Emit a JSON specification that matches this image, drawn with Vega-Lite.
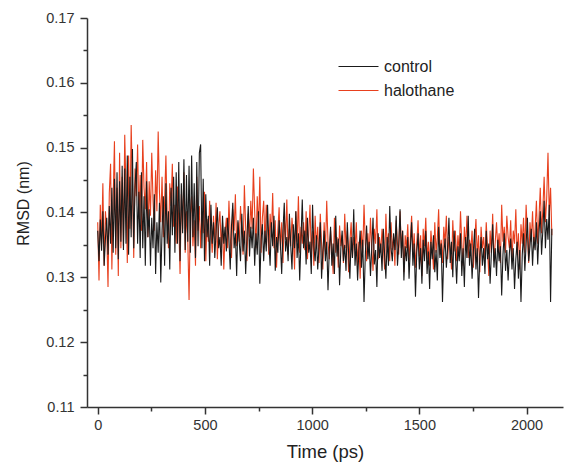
{
 "$schema": "https://vega.github.io/schema/vega-lite/v6.json",
 "width": 476, "height": 389,
 "autosize": {"type": "none"},
 "padding": {"left": 87, "top": 18, "right": 2, "bottom": 57},
 "background": "white",
 "config": {"view": {"stroke": null}, "font": "Liberation Sans"},
 "data": {"values": [
{"t":0,"control":0.1372,"halothane":0.1385},{"t":6,"control":0.1325,"halothane":0.1295},{"t":12,"control":0.1389,"halothane":0.1412},{"t":18,"control":0.1341,"halothane":0.1352},{"t":24,"control":0.1402,"halothane":0.1445},{"t":30,"control":0.1318,"halothane":0.1318},{"t":36,"control":0.1360,"halothane":0.1402},{"t":42,"control":0.1392,"halothane":0.1372},{"t":48,"control":0.1335,"halothane":0.1285},{"t":54,"control":0.1410,"halothane":0.1430},
{"t":60,"control":0.1352,"halothane":0.1475},{"t":66,"control":0.1438,"halothane":0.1312},{"t":72,"control":0.1338,"halothane":0.1420},{"t":78,"control":0.1452,"halothane":0.1510},{"t":84,"control":0.1345,"halothane":0.1335},{"t":90,"control":0.1462,"halothane":0.1438},{"t":96,"control":0.1328,"halothane":0.1302},{"t":102,"control":0.1448,"halothane":0.1492},{"t":108,"control":0.1355,"halothane":0.1345},{"t":114,"control":0.1472,"halothane":0.1455},
{"t":120,"control":0.1342,"halothane":0.1348},{"t":126,"control":0.1468,"halothane":0.1520},{"t":132,"control":0.1352,"halothane":0.1432},{"t":138,"control":0.1488,"halothane":0.1322},{"t":144,"control":0.1335,"halothane":0.1488},{"t":150,"control":0.1455,"halothane":0.1375},{"t":156,"control":0.1362,"halothane":0.1535},{"t":162,"control":0.1498,"halothane":0.1445},{"t":168,"control":0.1345,"halothane":0.1330},{"t":174,"control":0.1440,"halothane":0.1468},
{"t":180,"control":0.1478,"halothane":0.1425},{"t":186,"control":0.1352,"halothane":0.1505},{"t":192,"control":0.1432,"halothane":0.1390},{"t":198,"control":0.1330,"halothane":0.1458},{"t":204,"control":0.1462,"halothane":0.1372},{"t":210,"control":0.1345,"halothane":0.1512},{"t":216,"control":0.1425,"halothane":0.1438},{"t":222,"control":0.1318,"halothane":0.1405},{"t":228,"control":0.1448,"halothane":0.1478},{"t":234,"control":0.1362,"halothane":0.1362},
{"t":240,"control":0.1405,"halothane":0.1448},{"t":246,"control":0.1318,"halothane":0.1395},{"t":252,"control":0.1392,"halothane":0.1492},{"t":258,"control":0.1345,"halothane":0.1418},{"t":264,"control":0.1428,"halothane":0.1372},{"t":270,"control":0.1305,"halothane":0.1465},{"t":276,"control":0.1385,"halothane":0.1402},{"t":282,"control":0.1338,"halothane":0.1525},{"t":288,"control":0.1415,"halothane":0.1430},{"t":294,"control":0.1292,"halothane":0.1385},
{"t":300,"control":0.1372,"halothane":0.1455},{"t":306,"control":0.1425,"halothane":0.1362},{"t":312,"control":0.1318,"halothane":0.1418},{"t":318,"control":0.1445,"halothane":0.1488},{"t":324,"control":0.1352,"halothane":0.1392},{"t":330,"control":0.1402,"halothane":0.1345},{"t":336,"control":0.1312,"halothane":0.1445},{"t":342,"control":0.1438,"halothane":0.1410},{"t":348,"control":0.1365,"halothane":0.1475},{"t":354,"control":0.1455,"halothane":0.1378},
{"t":360,"control":0.1338,"halothane":0.1412},{"t":366,"control":0.1462,"halothane":0.1352},{"t":372,"control":0.1352,"halothane":0.1440},{"t":378,"control":0.1478,"halothane":0.1385},{"t":384,"control":0.1325,"halothane":0.1305},{"t":390,"control":0.1445,"halothane":0.1428},{"t":396,"control":0.1368,"halothane":0.1375},{"t":402,"control":0.1482,"halothane":0.1462},{"t":408,"control":0.1342,"halothane":0.1338},{"t":414,"control":0.1458,"halothane":0.1402},
{"t":420,"control":0.1355,"halothane":0.1358},{"t":426,"control":0.1472,"halothane":0.1265},{"t":432,"control":0.1338,"halothane":0.1395},{"t":438,"control":0.1488,"halothane":0.1425},{"t":444,"control":0.1362,"halothane":0.1348},{"t":450,"control":0.1445,"halothane":0.1388},{"t":456,"control":0.1330,"halothane":0.1318},{"t":462,"control":0.1478,"halothane":0.1455},{"t":468,"control":0.1348,"halothane":0.1372},{"t":474,"control":0.1492,"halothane":0.1410},
{"t":480,"control":0.1505,"halothane":0.1345},{"t":486,"control":0.1345,"halothane":0.1402},{"t":492,"control":0.1452,"halothane":0.1368},{"t":498,"control":0.1325,"halothane":0.1432},{"t":504,"control":0.1428,"halothane":0.1325},{"t":510,"control":0.1362,"halothane":0.1390},{"t":516,"control":0.1395,"halothane":0.1355},{"t":522,"control":0.1318,"halothane":0.1418},{"t":528,"control":0.1412,"halothane":0.1372},{"t":534,"control":0.1352,"halothane":0.1338},
{"t":540,"control":0.1385,"halothane":0.1395},{"t":546,"control":0.1330,"halothane":0.1352},{"t":552,"control":0.1372,"halothane":0.1415},{"t":558,"control":0.1408,"halothane":0.1328},{"t":564,"control":0.1345,"halothane":0.1378},{"t":570,"control":0.1362,"halothane":0.1402},{"t":576,"control":0.1318,"halothane":0.1345},{"t":582,"control":0.1395,"halothane":0.1385},{"t":588,"control":0.1352,"halothane":0.1312},{"t":594,"control":0.1378,"halothane":0.1368},
{"t":600,"control":0.1340,"halothane":0.1392},{"t":606,"control":0.1392,"halothane":0.1345},{"t":612,"control":0.1358,"halothane":0.1418},{"t":618,"control":0.1312,"halothane":0.1362},{"t":624,"control":0.1380,"halothane":0.1330},{"t":630,"control":0.1415,"halothane":0.1405},{"t":636,"control":0.1345,"halothane":0.1372},{"t":642,"control":0.1368,"halothane":0.1428},{"t":648,"control":0.1302,"halothane":0.1348},{"t":654,"control":0.1388,"halothane":0.1385},
{"t":660,"control":0.1355,"halothane":0.1355},{"t":666,"control":0.1325,"halothane":0.1410},{"t":672,"control":0.1398,"halothane":0.1372},{"t":678,"control":0.1340,"halothane":0.1335},{"t":684,"control":0.1372,"halothane":0.1442},{"t":690,"control":0.1305,"halothane":0.1378},{"t":696,"control":0.1360,"halothane":0.1325},{"t":702,"control":0.1410,"halothane":0.1398},{"t":708,"control":0.1332,"halothane":0.1362},{"t":714,"control":0.1378,"halothane":0.1418},
{"t":720,"control":0.1345,"halothane":0.1375},{"t":726,"control":0.1392,"halothane":0.1468},{"t":732,"control":0.1318,"halothane":0.1402},{"t":738,"control":0.1368,"halothane":0.1345},{"t":744,"control":0.1335,"halothane":0.1425},{"t":750,"control":0.1402,"halothane":0.1372},{"t":756,"control":0.1290,"halothane":0.1455},{"t":762,"control":0.1358,"halothane":0.1338},{"t":768,"control":0.1382,"halothane":0.1392},{"t":774,"control":0.1325,"halothane":0.1418},
{"t":780,"control":0.1372,"halothane":0.1352},{"t":786,"control":0.1340,"halothane":0.1412},{"t":792,"control":0.1412,"halothane":0.1378},{"t":798,"control":0.1355,"halothane":0.1335},{"t":804,"control":0.1318,"halothane":0.1398},{"t":810,"control":0.1385,"halothane":0.1362},{"t":816,"control":0.1348,"halothane":0.1430},{"t":822,"control":0.1395,"halothane":0.1345},{"t":828,"control":0.1310,"halothane":0.1388},{"t":834,"control":0.1362,"halothane":0.1315},
{"t":840,"control":0.1338,"halothane":0.1372},{"t":846,"control":0.1388,"halothane":0.1408},{"t":852,"control":0.1352,"halothane":0.1342},{"t":858,"control":0.1305,"halothane":0.1385},{"t":864,"control":0.1372,"halothane":0.1322},{"t":870,"control":0.1415,"halothane":0.1395},{"t":876,"control":0.1340,"halothane":0.1358},{"t":882,"control":0.1362,"halothane":0.1420},{"t":888,"control":0.1325,"halothane":0.1335},{"t":894,"control":0.1398,"halothane":0.1375},
{"t":900,"control":0.1350,"halothane":0.1348},{"t":906,"control":0.1312,"halothane":0.1392},{"t":912,"control":0.1382,"halothane":0.1365},{"t":918,"control":0.1345,"halothane":0.1312},{"t":924,"control":0.1402,"halothane":0.1402},{"t":930,"control":0.1330,"halothane":0.1355},{"t":936,"control":0.1368,"halothane":0.1425},{"t":942,"control":0.1295,"halothane":0.1338},{"t":948,"control":0.1358,"halothane":0.1378},{"t":954,"control":0.1420,"halothane":0.1352},
{"t":960,"control":0.1345,"halothane":0.1385},{"t":966,"control":0.1372,"halothane":0.1342},{"t":972,"control":0.1320,"halothane":0.1402},{"t":978,"control":0.1392,"halothane":0.1328},{"t":984,"control":0.1338,"halothane":0.1365},{"t":990,"control":0.1355,"halothane":0.1412},{"t":996,"control":0.1305,"halothane":0.1335},{"t":1002,"control":0.1412,"halothane":0.1372},{"t":1008,"control":0.1348,"halothane":0.1318},{"t":1014,"control":0.1325,"halothane":0.1395},
{"t":1020,"control":0.1365,"halothane":0.1345},{"t":1026,"control":0.1312,"halothane":0.1378},{"t":1032,"control":0.1348,"halothane":0.1322},{"t":1038,"control":0.1385,"halothane":0.1398},{"t":1044,"control":0.1298,"halothane":0.1352},{"t":1050,"control":0.1340,"halothane":0.1312},{"t":1056,"control":0.1372,"halothane":0.1385},{"t":1062,"control":0.1325,"halothane":0.1340},{"t":1068,"control":0.1355,"halothane":0.1418},{"t":1074,"control":0.1280,"halothane":0.1355},
{"t":1080,"control":0.1342,"halothane":0.1328},{"t":1086,"control":0.1378,"halothane":0.1372},{"t":1092,"control":0.1318,"halothane":0.1345},{"t":1098,"control":0.1352,"halothane":0.1305},{"t":1104,"control":0.1305,"halothane":0.1392},{"t":1110,"control":0.1395,"halothane":0.1338},{"t":1116,"control":0.1332,"halothane":0.1362},{"t":1122,"control":0.1360,"halothane":0.1315},{"t":1128,"control":0.1288,"halothane":0.1380},{"t":1134,"control":0.1345,"halothane":0.1348},
{"t":1140,"control":0.1372,"halothane":0.1365},{"t":1146,"control":0.1325,"halothane":0.1322},{"t":1152,"control":0.1350,"halothane":0.1398},{"t":1158,"control":0.1310,"halothane":0.1345},{"t":1164,"control":0.1385,"halothane":0.1372},{"t":1170,"control":0.1338,"halothane":0.1308},{"t":1176,"control":0.1298,"halothane":0.1355},{"t":1182,"control":0.1362,"halothane":0.1385},{"t":1188,"control":0.1330,"halothane":0.1330},{"t":1194,"control":0.1405,"halothane":0.1362},
{"t":1200,"control":0.1318,"halothane":0.1342},{"t":1206,"control":0.1352,"halothane":0.1385},{"t":1212,"control":0.1295,"halothane":0.1318},{"t":1218,"control":0.1340,"halothane":0.1355},{"t":1224,"control":0.1372,"halothane":0.1298},{"t":1230,"control":0.1315,"halothane":0.1372},{"t":1236,"control":0.1358,"halothane":0.1338},{"t":1242,"control":0.1262,"halothane":0.1412},{"t":1248,"control":0.1335,"halothane":0.1352},{"t":1254,"control":0.1380,"halothane":0.1325},
{"t":1260,"control":0.1328,"halothane":0.1368},{"t":1266,"control":0.1355,"halothane":0.1332},{"t":1272,"control":0.1302,"halothane":0.1392},{"t":1278,"control":0.1345,"halothane":0.1345},{"t":1284,"control":0.1392,"halothane":0.1310},{"t":1290,"control":0.1320,"halothane":0.1375},{"t":1296,"control":0.1342,"halothane":0.1352},{"t":1302,"control":0.1285,"halothane":0.1405},{"t":1308,"control":0.1368,"halothane":0.1328},{"t":1314,"control":0.1330,"halothane":0.1362},
{"t":1320,"control":0.1352,"halothane":0.1338},{"t":1326,"control":0.1310,"halothane":0.1375},{"t":1332,"control":0.1375,"halothane":0.1350},{"t":1338,"control":0.1335,"halothane":0.1312},{"t":1344,"control":0.1298,"halothane":0.1398},{"t":1350,"control":0.1362,"halothane":0.1345},{"t":1356,"control":0.1318,"halothane":0.1368},{"t":1362,"control":0.1410,"halothane":0.1325},{"t":1368,"control":0.1345,"halothane":0.1385},{"t":1374,"control":0.1325,"halothane":0.1342},
{"t":1380,"control":0.1368,"halothane":0.1362},{"t":1386,"control":0.1342,"halothane":0.1318},{"t":1392,"control":0.1395,"halothane":0.1388},{"t":1398,"control":0.1318,"halothane":0.1352},{"t":1404,"control":0.1352,"halothane":0.1335},{"t":1410,"control":0.1405,"halothane":0.1402},{"t":1416,"control":0.1330,"halothane":0.1345},{"t":1422,"control":0.1372,"halothane":0.1372},{"t":1428,"control":0.1295,"halothane":0.1308},{"t":1434,"control":0.1348,"halothane":0.1365},
{"t":1440,"control":0.1325,"halothane":0.1345},{"t":1446,"control":0.1362,"halothane":0.1382},{"t":1452,"control":0.1298,"halothane":0.1325},{"t":1458,"control":0.1345,"halothane":0.1358},{"t":1464,"control":0.1385,"halothane":0.1395},{"t":1470,"control":0.1318,"halothane":0.1338},{"t":1476,"control":0.1352,"halothane":0.1368},{"t":1482,"control":0.1270,"halothane":0.1315},{"t":1488,"control":0.1338,"halothane":0.1352},{"t":1494,"control":0.1368,"halothane":0.1388},
{"t":1500,"control":0.1312,"halothane":0.1332},{"t":1506,"control":0.1345,"halothane":0.1365},{"t":1512,"control":0.1290,"halothane":0.1302},{"t":1518,"control":0.1358,"halothane":0.1375},{"t":1524,"control":0.1325,"halothane":0.1348},{"t":1530,"control":0.1372,"halothane":0.1392},{"t":1536,"control":0.1305,"halothane":0.1328},{"t":1542,"control":0.1340,"halothane":0.1355},{"t":1548,"control":0.1282,"halothane":0.1318},{"t":1554,"control":0.1355,"halothane":0.1372},
{"t":1560,"control":0.1328,"halothane":0.1345},{"t":1566,"control":0.1365,"halothane":0.1312},{"t":1572,"control":0.1308,"halothane":0.1385},{"t":1578,"control":0.1342,"halothane":0.1338},{"t":1584,"control":0.1295,"halothane":0.1362},{"t":1590,"control":0.1378,"halothane":0.1405},{"t":1596,"control":0.1330,"halothane":0.1335},{"t":1602,"control":0.1352,"halothane":0.1358},{"t":1608,"control":0.1262,"halothane":0.1322},{"t":1614,"control":0.1338,"halothane":0.1378},
{"t":1620,"control":0.1360,"halothane":0.1352},{"t":1626,"control":0.1315,"halothane":0.1395},{"t":1632,"control":0.1345,"halothane":0.1328},{"t":1638,"control":0.1392,"halothane":0.1362},{"t":1644,"control":0.1322,"halothane":0.1345},{"t":1650,"control":0.1355,"halothane":0.1312},{"t":1656,"control":0.1300,"halothane":0.1388},{"t":1662,"control":0.1372,"halothane":0.1340},{"t":1668,"control":0.1338,"halothane":0.1372},{"t":1674,"control":0.1290,"halothane":0.1325},
{"t":1680,"control":0.1348,"halothane":0.1365},{"t":1686,"control":0.1325,"halothane":0.1338},{"t":1692,"control":0.1368,"halothane":0.1402},{"t":1698,"control":0.1302,"halothane":0.1352},{"t":1704,"control":0.1345,"halothane":0.1318},{"t":1710,"control":0.1285,"halothane":0.1378},{"t":1716,"control":0.1362,"halothane":0.1345},{"t":1722,"control":0.1330,"halothane":0.1395},{"t":1728,"control":0.1395,"halothane":0.1330},{"t":1734,"control":0.1318,"halothane":0.1358},
{"t":1740,"control":0.1352,"halothane":0.1342},{"t":1746,"control":0.1298,"halothane":0.1372},{"t":1752,"control":0.1340,"halothane":0.1315},{"t":1758,"control":0.1375,"halothane":0.1355},{"t":1764,"control":0.1312,"halothane":0.1390},{"t":1770,"control":0.1345,"halothane":0.1332},{"t":1776,"control":0.1268,"halothane":0.1365},{"t":1782,"control":0.1332,"halothane":0.1308},{"t":1788,"control":0.1362,"halothane":0.1378},{"t":1794,"control":0.1318,"halothane":0.1345},
{"t":1800,"control":0.1345,"halothane":0.1362},{"t":1806,"control":0.1305,"halothane":0.1328},{"t":1812,"control":0.1372,"halothane":0.1385},{"t":1818,"control":0.1328,"halothane":0.1345},{"t":1824,"control":0.1352,"halothane":0.1302},{"t":1830,"control":0.1290,"halothane":0.1372},{"t":1836,"control":0.1338,"halothane":0.1338},{"t":1842,"control":0.1382,"halothane":0.1398},{"t":1848,"control":0.1315,"halothane":0.1325},{"t":1854,"control":0.1345,"halothane":0.1355},
{"t":1860,"control":0.1302,"halothane":0.1385},{"t":1866,"control":0.1358,"halothane":0.1342},{"t":1872,"control":0.1325,"halothane":0.1368},{"t":1878,"control":0.1348,"halothane":0.1322},{"t":1884,"control":0.1272,"halothane":0.1412},{"t":1890,"control":0.1335,"halothane":0.1355},{"t":1896,"control":0.1368,"halothane":0.1378},{"t":1902,"control":0.1310,"halothane":0.1338},{"t":1908,"control":0.1342,"halothane":0.1395},{"t":1914,"control":0.1295,"halothane":0.1362},
{"t":1920,"control":0.1338,"halothane":0.1345},{"t":1926,"control":0.1360,"halothane":0.1388},{"t":1932,"control":0.1312,"halothane":0.1325},{"t":1938,"control":0.1345,"halothane":0.1372},{"t":1944,"control":0.1282,"halothane":0.1352},{"t":1950,"control":0.1328,"halothane":0.1405},{"t":1956,"control":0.1355,"halothane":0.1335},{"t":1962,"control":0.1298,"halothane":0.1368},{"t":1968,"control":0.1342,"halothane":0.1312},{"t":1974,"control":0.1262,"halothane":0.1382},
{"t":1980,"control":0.1335,"halothane":0.1352},{"t":1986,"control":0.1368,"halothane":0.1392},{"t":1992,"control":0.1310,"halothane":0.1338},{"t":1998,"control":0.1352,"halothane":0.1412},{"t":2004,"control":0.1392,"halothane":0.1365},{"t":2010,"control":0.1325,"halothane":0.1322},{"t":2016,"control":0.1348,"halothane":0.1385},{"t":2022,"control":0.1375,"halothane":0.1355},{"t":2028,"control":0.1318,"halothane":0.1402},{"t":2034,"control":0.1362,"halothane":0.1345},
{"t":2040,"control":0.1342,"halothane":0.1375},{"t":2046,"control":0.1385,"halothane":0.1418},{"t":2052,"control":0.1320,"halothane":0.1352},{"t":2058,"control":0.1368,"halothane":0.1392},{"t":2064,"control":0.1402,"halothane":0.1438},{"t":2070,"control":0.1335,"halothane":0.1368},{"t":2076,"control":0.1372,"halothane":0.1405},{"t":2082,"control":0.1418,"halothane":0.1455},{"t":2088,"control":0.1345,"halothane":0.1385},{"t":2094,"control":0.1390,"halothane":0.1422},
{"t":2100,"control":0.1358,"halothane":0.1492},{"t":2106,"control":0.1412,"halothane":0.1395},{"t":2112,"control":0.1262,"halothane":0.1438},{"t":2118,"control":0.1375,"halothane":0.1365}
 ]},
 "transform": [{"fold": ["control", "halothane"], "as": ["series", "rmsd"]}],
 "encoding": {
  "x": {"field": "t", "type": "quantitative",
   "scale": {"domain": [-50, 2170], "nice": false, "zero": false},
   "axis": {"title": "Time (ps)", "values": [0,250,500,750,1000,1250,1500,1750,2000], "format": "d",
    "labelExpr": "datum.value % 500 === 0 ? datum.label : ''",
    "tickSize": {"condition": {"test": "datum.value % 500 !== 0", "value": 4}, "value": 7},
    "grid": false, "domainColor": "#333", "domainWidth": 1.5, "tickColor": "#333", "tickWidth": 1.5,
    "labelFontSize": 14.5, "labelColor": "#333", "labelPadding": 4,
    "titleFontSize": 18.5, "titleFontWeight": "normal", "titleColor": "#222", "titlePadding": 11}},
  "y": {"field": "rmsd", "type": "quantitative",
   "scale": {"domain": [0.11, 0.17], "nice": false, "zero": false},
   "axis": {"title": "RMSD (nm)", "values": [0.11,0.115,0.12,0.125,0.13,0.135,0.14,0.145,0.15,0.155,0.16,0.165,0.17],
    "labelExpr": "abs(datum.value*100 - round(datum.value*100)) < 0.01 ? format(datum.value, '.2f') : ''",
    "tickSize": {"condition": {"test": "abs(datum.value*100 - round(datum.value*100)) > 0.01", "value": 4}, "value": 7},
    "grid": false, "domainColor": "#333", "domainWidth": 1.5, "tickColor": "#333", "tickWidth": 1.5,
    "labelFontSize": 14.5, "labelColor": "#333", "labelPadding": 6,
    "titleFontSize": 16, "titleFontWeight": "normal", "titleColor": "#222", "titlePadding": 14, "titleY": 185}},
  "color": {"field": "series", "type": "nominal",
   "scale": {"domain": ["control", "halothane"], "range": ["#1a1a1a", "#e8401e"]},
   "legend": {"title": null, "orient": "none", "legendX": 261, "legendY": 38,
    "symbolType": "M-2,0H2", "symbolSize": 400, "symbolStrokeWidth": 1,
    "labelFontSize": 16, "labelColor": "#222", "labelOffset": 15, "rowPadding": 5}}
 },
 "layer": [
  {"transform": [{"filter": "datum.series === 'halothane'"}], "mark": {"type": "line", "strokeWidth": 1.1, "clip": true}},
  {"transform": [{"filter": "datum.series === 'control'"}], "mark": {"type": "line", "strokeWidth": 1.1, "clip": true}}
 ]
}
